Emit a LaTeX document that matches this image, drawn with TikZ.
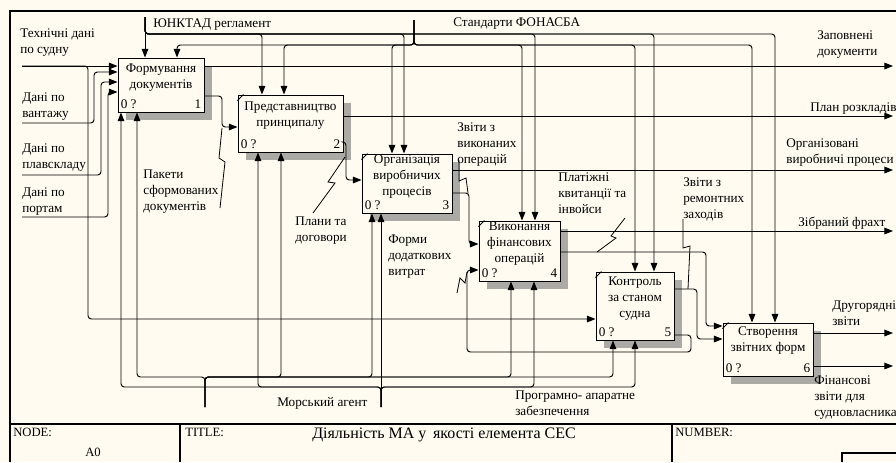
\documentclass[tikz,border=0pt]{standalone}
\usepackage{fontspec}
\setmainfont{Liberation Serif}
\usetikzlibrary{arrows.meta,shadows,calc}

\definecolor{paper}{RGB}{255,251,240}
\definecolor{shade}{RGB}{172,170,165}

\begin{document}
\begin{tikzpicture}[x=0.75pt,y=-0.75pt,
  font=\fontsize{9.9}{12}\selectfont,
  wire/.style={line width=0.7pt, rounded corners=2.5pt},
  arr/.style={wire, -{Triangle[length=6.5pt,width=5pt]}},
  fn/.style 2 args={draw, line width=0.75pt, fill=paper, inner sep=0,
    minimum width=#1*0.75pt, minimum height=#2*0.75pt,
    drop shadow={shadow xshift=5.8pt, shadow yshift=-5.8pt, fill=shade, opacity=1}},
  lbl/.style={anchor=north west, align=left, inner sep=0},
  ttl/.style={anchor=north, align=center, inner sep=0},
  leader/.style={line width=0.6pt},
]
\useasboundingbox (0,0) rectangle (896,462);
\fill[paper] (0,0) rectangle (896,462);

% frame and title block
\draw[line width=0.8pt] (10,462) -- (10,11) -- (896,11);
\draw[line width=0.8pt] (10,424) -- (896,424);
\draw[line width=0.8pt] (180,424) -- (180,462);
\draw[line width=0.8pt] (672,424) -- (672,462);
\draw[line width=0.8pt] (842,462) -- (842,453) -- (896,453);
\node[lbl, font=\fontsize{9.5}{12}\selectfont] (tNode) at (13,428) {NODE:};
\node[lbl, font=\fontsize{9.5}{12}\selectfont] (tA0) at (85,448) {A0};
\node[lbl, font=\fontsize{9.5}{12}\selectfont] (tTitle) at (185,428) {TITLE:};
\node[lbl, font=\fontsize{12}{14}\selectfont] (tName) at (312,428) {Діяльність МА у\, якості елемента СЕС};
\node[lbl, font=\fontsize{9.5}{12}\selectfont] (tNumber) at (675,428) {NUMBER:};

% activity boxes
\node[fn={86}{54}]  (b1) at (161,85) {};
\node[fn={105}{57}] (b2) at (290.5,123.5) {};
\node[fn={90}{59}]  (b3) at (407,183.5) {};
\node[fn={81}{60}]  (b4) at (519.5,251) {};
\node[fn={78}{68}]  (b5) at (635,306) {};
\node[fn={90}{53}]  (b6) at (768,349.5) {};

\node[ttl] (n1) at ($(b1.north)+(0,6)$) {Формування\\документів};
\node[ttl] (n2) at ($(b2.north)+(0,7)$) {Представництво\\принципалу};
\node[ttl] (n3) at ($(b3.north)+(0,1)$) {Організація\\виробничих\\процесів};
\node[ttl] (n4) at ($(b4.north)+(0,1)$) {Виконання\\фінансових\\операцій};
\node[ttl] (n5) at ($(b5.north)+(0,5)$) {Контроль\\за станом\\судна};
\node[ttl] (n6) at ($(b6.north)+(0,4)$) {Створення\\звітних форм};

\foreach \b/\k in {b1/1,b2/2,b3/3,b4/4,b5/5,b6/6}{
  \node[anchor=south west, inner sep=0] (\b q) at ($(\b.south west)+(3,-4)$) {0 ?};
  \node[anchor=south east, inner sep=0] (\b k) at ($(\b.south east)+(-3,-4)$) {\k};
}
\foreach \b in {b2,b3,b4,b5,b6}
  \draw[line width=0.6pt] ($(\b.north west)+(0,6)$) -- ($(\b.north west)+(6,0)$);

% free ends of boundary arrows
\coordinate (unct) at (145,17);
\coordinate (stand) at (414,20);
\coordinate (tech) at (22,66);
\coordinate (cargo) at (22,123);
\coordinate (crew) at (22,175);
\coordinate (ports) at (22,217);
\coordinate (agentA) at (205,407);
\coordinate (agentB) at (381,407);
\coordinate (oDocs) at (893,66);
\coordinate (oPlan) at (893,116);
\coordinate (oProc) at (893,170);
\coordinate (oFreight) at (893,231);
\coordinate (oMinor) at (893,333);
\coordinate (oFin) at (893,366);

% inputs
\draw[arr] (tech) -- (tech -| b1.west);
\draw[arr] (tech) -- (88,66) -- (88,319) -- (b5.west |- 0,319);
\draw[arr] (cargo) -- (94,123) -- (94,72) -- (b1.west |- 0,72);
\draw[arr] (crew) -- (101,175) -- (101,82) -- (b1.west |- 0,82);
\draw[arr] (ports) -- (108,217) -- (108,92) -- (b1.west |- 0,92);

% controls
\draw[arr] (unct) -- (unct |- b1.north);
\foreach \x/\b in {262/b2,404/b3,535/b4,654/b5,775/b6}
  \draw[arr] (unct) -- (145,34) -- (\x,34) -- (\b.north -| \x,0);
\foreach \x/\b in {177/b1,284/b2,392/b3,522/b4,635/b5,752/b6}
  \draw[arr] (stand) -- (414,45) -- (\x,45) -- (\b.north -| \x,0);

% mechanisms
\foreach \x/\b in {137/b1,281/b2,372/b3,511/b4,613/b5}
  \draw[arr] (agentA) -- (205,377) -- (\x,377) -- (\b.south -| \x,0);
\foreach \x/\b in {121/b1,258/b2,534/b4,635/b5}
  \draw[arr] (agentB) -- (381,387) -- (\x,387) -- (\b.south -| \x,0);
\draw[arr] (agentB) -- (agentB |- b3.south);

% outputs
\draw[arr] (b1.east |- oDocs) -- (oDocs);
\draw[arr] (b1.east |- 0,96) -- (222,96) -- (222,127) -- (b2.west |- 0,127);
\draw[arr] (b2.east |- oPlan) -- (oPlan);
\draw[arr] (b2.east |- 0,142) -- (346,142) -- (346,180) -- (b3.west |- 0,180);
\draw[arr] (b3.east |- oProc) -- (oProc);
\draw[arr] (b3.east |- 0,193) -- (469,193) -- (469,244) -- (b4.west |- 0,244);
\draw[arr] (b4.east |- oFreight) -- (oFreight);
\draw[arr] (b4.east |- 0,252) -- (706,252) -- (706,326) -- (b6.west |- 0,326);
\draw[arr] (b5.east |- 0,289) -- (697,289) -- (697,339) -- (b6.west |- 0,339);
\draw[arr] (b5.east |- 0,335) -- (691,335) -- (691,352) -- (467,352) -- (467,270) -- (b4.west |- 0,270);
\draw[arr] (b6.east |- oMinor) -- (oMinor);
\draw[arr] (b6.east |- oFin) -- (oFin);

% arrow labels
\node[lbl] (lTech) at (20,28) {Технічні дані\\по судну};
\node[lbl] (lCargo) at (22,92) {Дані по\\вантажу};
\node[lbl] (lCrew) at (22,143) {Дані по\\плавскладу};
\node[lbl] (lPorts) at (22,187) {Дані по\\портам};
\node[lbl] (lUnct) at (153,18) {ЮНКТАД регламент};
\node[lbl] (lStand) at (453,17) {Стандарти ФОНАСБА};
\node[lbl] (lDocs) at (817,30) {Заповнені\\документи};
\node[lbl] (lPlan) at (810,102) {План розкладів};
\node[lbl] (lProc) at (786,138) {Організовані\\виробничі процеси};
\node[lbl] (lDone) at (457,122) {Звіти з\\виконаних\\операцій};
\node[lbl] (lPay) at (558,172) {Платіжні\\квитанції та\\інвойси};
\node[lbl] (lRepair) at (683,177) {Звіти з\\ремонтних\\заходів};
\node[lbl] (lFreight) at (798,217) {Зібраний фрахт};
\node[lbl] (lMinor) at (832,300) {Другорядні\\звіти};
\node[lbl] (lFin) at (814,375) {Фінансові\\звіти для\\судновласника};
\node[lbl] (lHw) at (515,391) {Програмно- апаратне\\забезпечення};
\node[lbl] (lAgent) at (277,397) {Морський агент};
\node[lbl] (lPack) at (143,170) {Пакети\\сформованих\\документів};
\node[lbl] (lPlans) at (295,217) {Плани та\\договори};
\node[lbl] (lForms) at (388,235) {Форми\\додаткових\\витрат};

% label leaders
\draw[leader] (222,128) -- (219,158) -- (225,162) -- (220,208);
\draw[leader] (345,157) -- (328,182) -- (335,183) -- (313,213);
\draw[leader] (459,160) -- (459,181) -- (466,178) -- (468,193);
\draw[leader] (625,218) -- (611,236) -- (616,238) -- (597,252);
\draw[leader] (683,219) -- (683,248) -- (690,246) -- (688,289);
\draw[leader] (457,293) -- (460,278) -- (465,283) -- (467,272);
\end{tikzpicture}
\end{document}
